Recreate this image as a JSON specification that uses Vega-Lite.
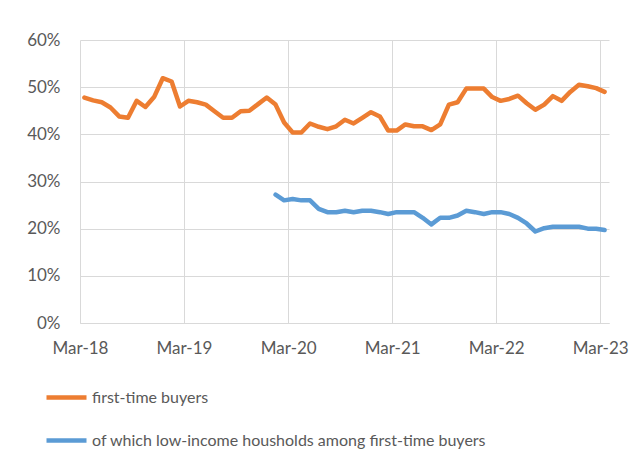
{
  "$schema": "https://vega.github.io/schema/vega-lite/v6.json",
  "autosize": "none",
  "width": 529,
  "height": 283,
  "padding": {"left": 80, "top": 40, "right": 26, "bottom": 136},
  "background": "white",
  "config": {
    "view": {"stroke": null},
    "font": "Lato",
    "axis": {"labelFont": "Lato", "labelColor": "#595959", "gridColor": "#d9d9d9", "gridWidth": 1, "domainColor": "#d9d9d9", "ticks": false, "title": null},
    "legend": {"labelFont": "Lato"}
  },
  "data": {
    "values": [
      {"month": "2018-03", "first-time buyers": 0.478},
      {"month": "2018-04", "first-time buyers": 0.472},
      {"month": "2018-05", "first-time buyers": 0.468},
      {"month": "2018-06", "first-time buyers": 0.457},
      {"month": "2018-07", "first-time buyers": 0.438},
      {"month": "2018-08", "first-time buyers": 0.435},
      {"month": "2018-09", "first-time buyers": 0.471},
      {"month": "2018-10", "first-time buyers": 0.458},
      {"month": "2018-11", "first-time buyers": 0.479},
      {"month": "2018-12", "first-time buyers": 0.519},
      {"month": "2019-01", "first-time buyers": 0.512},
      {"month": "2019-02", "first-time buyers": 0.459},
      {"month": "2019-03", "first-time buyers": 0.471},
      {"month": "2019-04", "first-time buyers": 0.468},
      {"month": "2019-05", "first-time buyers": 0.463},
      {"month": "2019-06", "first-time buyers": 0.449},
      {"month": "2019-07", "first-time buyers": 0.435},
      {"month": "2019-08", "first-time buyers": 0.435},
      {"month": "2019-09", "first-time buyers": 0.449},
      {"month": "2019-10", "first-time buyers": 0.450},
      {"month": "2019-11", "first-time buyers": 0.464},
      {"month": "2019-12", "first-time buyers": 0.478},
      {"month": "2020-01", "first-time buyers": 0.463, "of which low-income housholds among first-time buyers": 0.272},
      {"month": "2020-02", "first-time buyers": 0.425, "of which low-income housholds among first-time buyers": 0.260},
      {"month": "2020-03", "first-time buyers": 0.404, "of which low-income housholds among first-time buyers": 0.263},
      {"month": "2020-04", "first-time buyers": 0.404, "of which low-income housholds among first-time buyers": 0.260},
      {"month": "2020-05", "first-time buyers": 0.423, "of which low-income housholds among first-time buyers": 0.260},
      {"month": "2020-06", "first-time buyers": 0.416, "of which low-income housholds among first-time buyers": 0.242},
      {"month": "2020-07", "first-time buyers": 0.411, "of which low-income housholds among first-time buyers": 0.235},
      {"month": "2020-08", "first-time buyers": 0.417, "of which low-income housholds among first-time buyers": 0.235},
      {"month": "2020-09", "first-time buyers": 0.431, "of which low-income housholds among first-time buyers": 0.238},
      {"month": "2020-10", "first-time buyers": 0.423, "of which low-income housholds among first-time buyers": 0.235},
      {"month": "2020-11", "first-time buyers": 0.435, "of which low-income housholds among first-time buyers": 0.238},
      {"month": "2020-12", "first-time buyers": 0.447, "of which low-income housholds among first-time buyers": 0.238},
      {"month": "2021-01", "first-time buyers": 0.438, "of which low-income housholds among first-time buyers": 0.235},
      {"month": "2021-02", "first-time buyers": 0.408, "of which low-income housholds among first-time buyers": 0.231},
      {"month": "2021-03", "first-time buyers": 0.408, "of which low-income housholds among first-time buyers": 0.235},
      {"month": "2021-04", "first-time buyers": 0.421, "of which low-income housholds among first-time buyers": 0.235},
      {"month": "2021-05", "first-time buyers": 0.417, "of which low-income housholds among first-time buyers": 0.235},
      {"month": "2021-06", "first-time buyers": 0.417, "of which low-income housholds among first-time buyers": 0.223},
      {"month": "2021-07", "first-time buyers": 0.409, "of which low-income housholds among first-time buyers": 0.209},
      {"month": "2021-08", "first-time buyers": 0.421, "of which low-income housholds among first-time buyers": 0.223},
      {"month": "2021-09", "first-time buyers": 0.463, "of which low-income housholds among first-time buyers": 0.223},
      {"month": "2021-10", "first-time buyers": 0.468, "of which low-income housholds among first-time buyers": 0.228},
      {"month": "2021-11", "first-time buyers": 0.497, "of which low-income housholds among first-time buyers": 0.238},
      {"month": "2021-12", "first-time buyers": 0.497, "of which low-income housholds among first-time buyers": 0.235},
      {"month": "2022-01", "first-time buyers": 0.497, "of which low-income housholds among first-time buyers": 0.231},
      {"month": "2022-02", "first-time buyers": 0.479, "of which low-income housholds among first-time buyers": 0.235},
      {"month": "2022-03", "first-time buyers": 0.471, "of which low-income housholds among first-time buyers": 0.235},
      {"month": "2022-04", "first-time buyers": 0.475, "of which low-income housholds among first-time buyers": 0.231},
      {"month": "2022-05", "first-time buyers": 0.482, "of which low-income housholds among first-time buyers": 0.223},
      {"month": "2022-06", "first-time buyers": 0.466, "of which low-income housholds among first-time buyers": 0.211},
      {"month": "2022-07", "first-time buyers": 0.452, "of which low-income housholds among first-time buyers": 0.194},
      {"month": "2022-08", "first-time buyers": 0.463, "of which low-income housholds among first-time buyers": 0.201},
      {"month": "2022-09", "first-time buyers": 0.481, "of which low-income housholds among first-time buyers": 0.204},
      {"month": "2022-10", "first-time buyers": 0.471, "of which low-income housholds among first-time buyers": 0.204},
      {"month": "2022-11", "first-time buyers": 0.490, "of which low-income housholds among first-time buyers": 0.204},
      {"month": "2022-12", "first-time buyers": 0.505, "of which low-income housholds among first-time buyers": 0.204},
      {"month": "2023-01", "first-time buyers": 0.502, "of which low-income housholds among first-time buyers": 0.200},
      {"month": "2023-02", "first-time buyers": 0.498, "of which low-income housholds among first-time buyers": 0.200},
      {"month": "2023-03", "first-time buyers": 0.490, "of which low-income housholds among first-time buyers": 0.197}
    ],
    "format": {"parse": {"month": "utc:'%Y-%m'"}}
  },
  "transform": [
    {"fold": ["first-time buyers", "of which low-income housholds among first-time buyers"], "as": ["series", "share"]},
    {"filter": "isValid(datum.share)"}
  ],
  "mark": {"type": "line", "strokeWidth": 4.5, "strokeCap": "round", "strokeJoin": "round"},
  "encoding": {
    "x": {
      "field": "month",
      "type": "temporal",
      "timeUnit": "utcyearmonth",
      "bandPosition": 0.5,
      "scale": {"type": "utc", "domain": [{"year": 2018, "month": 3, "date": 1, "utc": true}, {"year": 2023, "month": 4, "date": 1, "utc": true}]},
      "axis": {
        "values": [
          {"year": 2018, "month": 3, "date": 1, "utc": true},
          {"year": 2019, "month": 3, "date": 1, "utc": true},
          {"year": 2020, "month": 3, "date": 1, "utc": true},
          {"year": 2021, "month": 3, "date": 1, "utc": true},
          {"year": 2022, "month": 3, "date": 1, "utc": true},
          {"year": 2023, "month": 3, "date": 1, "utc": true}
        ],
        "format": "%b-%y",
        "labelFontSize": 17,
        "labelPadding": 17,
        "grid": true,
        "domain": true,
        "labelFlush": false,
        "labelOverlap": false
      }
    },
    "y": {
      "field": "share",
      "type": "quantitative",
      "scale": {"domain": [0, 0.6], "nice": false, "zero": true},
      "axis": {"values": [0, 0.1, 0.2, 0.3, 0.4, 0.5, 0.6], "format": ".0%", "labelFontSize": 17, "labelPadding": 20, "domain": false, "grid": true}
    },
    "color": {
      "field": "series",
      "type": "nominal",
      "scale": {"domain": ["first-time buyers", "of which low-income housholds among first-time buyers"], "range": ["#ED7D31", "#5B9BD5"]},
      "legend": {
        "title": null,
        "orient": "none",
        "legendX": -36,
        "legendY": 335,
        "direction": "vertical",
        "symbolType": "stroke",
        "symbolSize": 1600,
        "symbolStrokeWidth": 4.5,
        "labelFontSize": 16,
        "labelColor": "#595959",
        "labelOffset": 3,
        "rowPadding": 11,
        "labelLimit": 500
      }
    }
  }
}
